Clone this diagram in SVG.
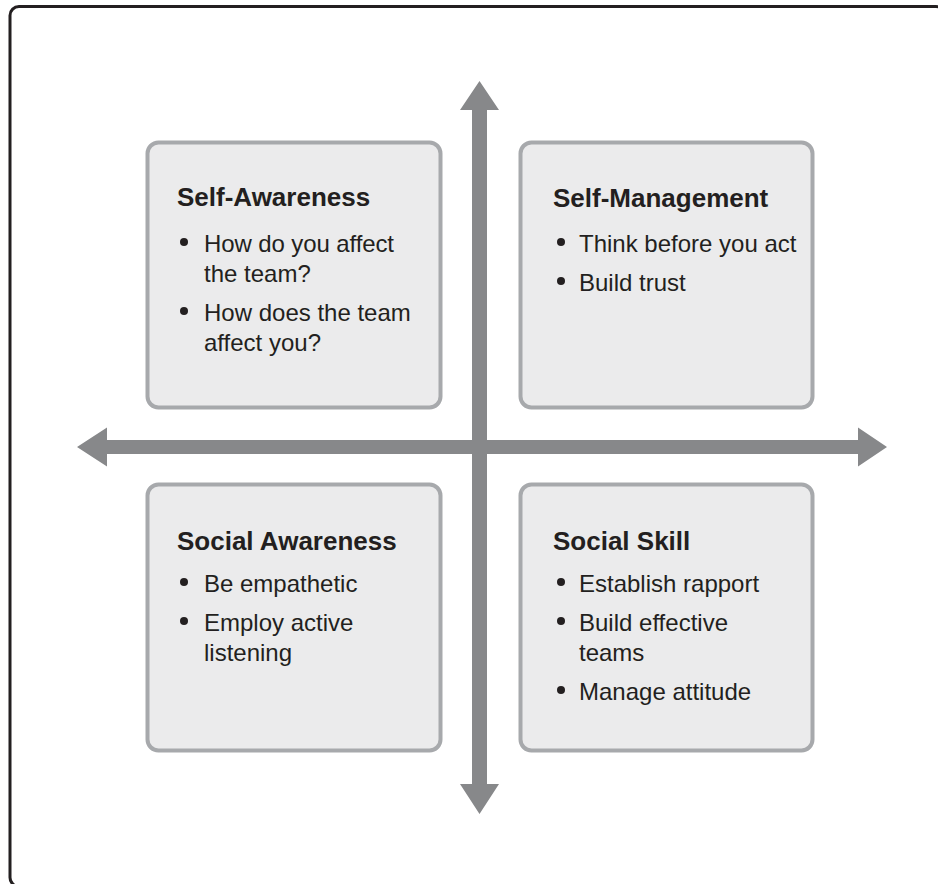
<svg xmlns="http://www.w3.org/2000/svg" width="938" height="884" viewBox="0 0 938 884">
<style>
.frame{fill:#ffffff;stroke:#231f20;stroke-width:3}
.box{fill:#ebebec;stroke:#a7a9ac;stroke-width:4}
.axis{fill:#87888a}
.title{font-family:"Liberation Sans",Arial,sans-serif;font-weight:bold;font-size:26px;fill:#231f20}
.item{font-family:"Liberation Sans",Arial,sans-serif;font-size:24px;fill:#231f20}
.dot{fill:#231f20}
</style>
<rect width="938" height="884" fill="#ffffff"/>
<rect class="frame" x="10" y="6.5" width="935" height="880" rx="9"/>
<g id="connectors">
<polygon class="axis" points="479.5,81 499,110 487,110 487,784 499,784 479.5,814 460,784 472,784 472,110 460,110"/>
<polygon class="axis" points="77,447 107,427.5 107,440 858,440 858,427.5 887,447 858,466.5 858,454 107,454 107,466.5"/>
</g>
<g id="self-awareness">
<rect class="box" x="147.5" y="142.5" width="293" height="265" rx="11"/>
<text class="title" x="177" y="206">Self-Awareness</text>
<circle class="dot" cx="184" cy="242" r="4"/>
<text class="item" x="204" y="252" textLength="190" lengthAdjust="spacing">How do you affect</text>
<text class="item" x="204" y="282">the team?</text>
<circle class="dot" cx="184" cy="311" r="4"/>
<text class="item" x="204" y="321">How does the team</text>
<text class="item" x="204" y="351">affect you?</text>
</g>
<g id="self-management">
<rect class="box" x="520.5" y="142.5" width="292" height="265" rx="11"/>
<text class="title" x="553" y="207">Self-Management</text>
<circle class="dot" cx="561" cy="242" r="4"/>
<text class="item" x="579" y="252">Think before you act</text>
<circle class="dot" cx="561" cy="281" r="4"/>
<text class="item" x="579" y="291">Build trust</text>
</g>
<g id="social-awareness">
<rect class="box" x="147.5" y="484.5" width="293" height="266" rx="11"/>
<text class="title" x="177" y="550">Social Awareness</text>
<circle class="dot" cx="184" cy="582" r="4"/>
<text class="item" x="204" y="592">Be empathetic</text>
<circle class="dot" cx="184" cy="621" r="4"/>
<text class="item" x="204" y="631">Employ active</text>
<text class="item" x="204" y="661">listening</text>
</g>
<g id="social-skill">
<rect class="box" x="520.5" y="484.5" width="292" height="266" rx="11"/>
<text class="title" x="553" y="550">Social Skill</text>
<circle class="dot" cx="561" cy="582" r="4"/>
<text class="item" x="579" y="592">Establish rapport</text>
<circle class="dot" cx="561" cy="621" r="4"/>
<text class="item" x="579" y="631">Build effective</text>
<text class="item" x="579" y="661">teams</text>
<circle class="dot" cx="561" cy="690" r="4"/>
<text class="item" x="579" y="700">Manage attitude</text>
</g>
</svg>
